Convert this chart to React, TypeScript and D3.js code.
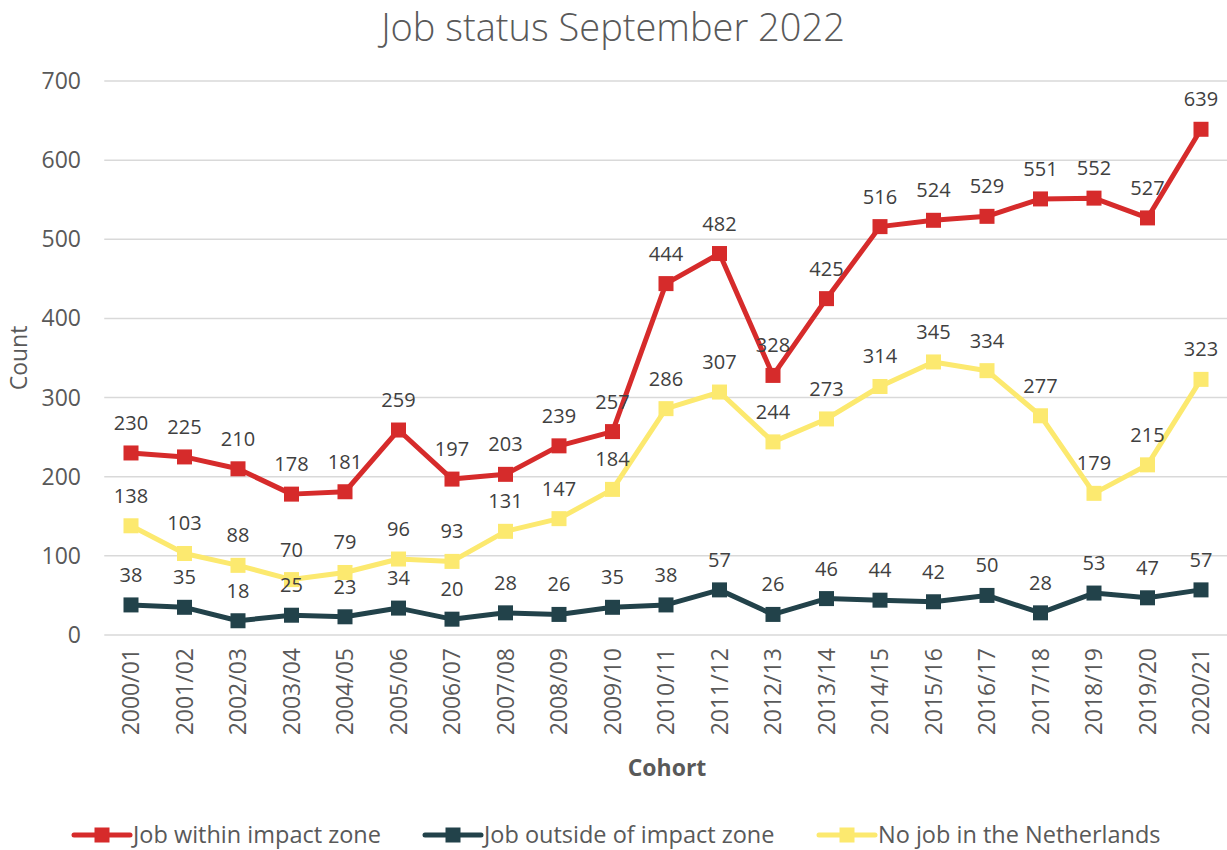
import React from 'react'
import * as d3 from 'd3'

const cohorts = [
  '2000/01', '2001/02', '2002/03', '2003/04', '2004/05', '2005/06', '2006/07',
  '2007/08', '2008/09', '2009/10', '2010/11', '2011/12', '2012/13', '2013/14',
  '2014/15', '2015/16', '2016/17', '2017/18', '2018/19', '2019/20', '2020/21'
]

const withinZone = [230, 225, 210, 178, 181, 259, 197, 203, 239, 257, 444, 482, 328, 425, 516, 524, 529, 551, 552, 527, 639]
const outsideZone = [38, 35, 18, 25, 23, 34, 20, 28, 26, 35, 38, 57, 26, 46, 44, 42, 50, 28, 53, 47, 57]
const noJobNL = [138, 103, 88, 70, 79, 96, 93, 131, 147, 184, 286, 307, 244, 273, 314, 345, 334, 277, 179, 215, 323]

const yTicks = [0, 100, 200, 300, 400, 500, 600, 700]

const series = [
  { name: 'Job within impact zone', values: withinZone, color: '#D62B2B' },
  { name: 'Job outside of impact zone', values: outsideZone, color: '#22424A' },
  { name: 'No job in the Netherlands', values: noJobNL, color: '#FCE96F' }
]

// drawing order: yellow below the others like the original
const drawOrder = [2, 1, 0]

const W = 1227
const H = 850
const FONT = '"Open Sans", sans-serif'
const TEXT = '#595959'

export default function App () {
  const margin = { left: 104.25, right: 0, top: 81, bottom: 215 }
  const x = d3.scaleBand<string>()
    .domain(cohorts)
    .range([margin.left, margin.left + 53.5 * cohorts.length])
  const y = d3.scaleLinear()
    .domain([0, 700])
    .range([H - margin.bottom, margin.top])

  const cx = (c: string) => (x(c) as number) + x.bandwidth() / 2
  const line = d3.line<number>()
    .x((d, i) => cx(cohorts[i]))
    .y((d) => y(d))

  // legend: line start / text start
  const legendItems = [
    { lx: 74, tx: 133 },
    { lx: 425, tx: 484 },
    { lx: 819, tx: 878 }
  ]

  return (
    <svg width={W} height={H} style={{ position: 'absolute', left: 0, top: 0, background: '#fff' }}
      fontFamily={FONT}>
      <text x={613} y={41} textAnchor='middle' fontSize={38} fill={TEXT} fontWeight={300}>
        Job status September 2022
      </text>

      {/* grid + y axis */}
      {yTicks.map((t) => (
        <g key={t}>
          <line x1={margin.left} x2={W} y1={y(t)} y2={y(t)} stroke='#d9d9d9' strokeWidth={1.5} />
          <text x={81} y={y(t)} dy='0.35em' textAnchor='end' fontSize={23} fill={TEXT}>{t}</text>
        </g>
      ))}
      <text transform={`translate(27,${358}) rotate(-90)`} textAnchor='middle' fontSize={23} fill={TEXT}>Count</text>

      {/* x axis labels */}
      {cohorts.map((c) => (
        <text key={c} transform={`translate(${cx(c)},648) rotate(-90)`} textAnchor='end' dy='0.35em'
          fontSize={23} fill={TEXT}>{c}</text>
      ))}
      <text x={667} y={776} textAnchor='middle' fontSize={23} fontWeight={700} fill={TEXT}>Cohort</text>

      {/* series */}
      {drawOrder.map((si) => {
        const s = series[si]
        return (
          <g key={s.name}>
            <path d={line(s.values) || ''} fill='none' stroke={s.color} strokeWidth={5} strokeLinejoin='round' />
            {s.values.map((v, i) => (
              <rect key={i} x={cx(cohorts[i]) - 7.5} y={y(v) - 7.5} width={15} height={15} fill={s.color} />
            ))}
          </g>
        )
      })}
      {drawOrder.map((si) => {
        const s = series[si]
        return (
          <g key={s.name + '-labels'}>
            {s.values.map((v, i) => (
              <text key={i} x={cx(cohorts[i])} y={y(v) - 30} dy='0.35em' textAnchor='middle'
                fontSize={20} fill='#404040'>{v}</text>
            ))}
          </g>
        )
      })}

      {/* legend */}
      {series.map((s, i) => {
        const it = legendItems[i]
        return (
          <g key={s.name + '-legend'}>
            <line x1={it.lx} x2={it.tx - 3} y1={835} y2={835} stroke={s.color} strokeWidth={5} strokeLinecap='round' />
            <rect x={(it.lx + it.tx - 3) / 2 - 7.5} y={827.5} width={15} height={15} fill={s.color} />
            <text x={it.tx} y={835} dy='0.35em' fontSize={23.5} fill={TEXT}>{s.name}</text>
          </g>
        )
      })}
    </svg>
  )
}
